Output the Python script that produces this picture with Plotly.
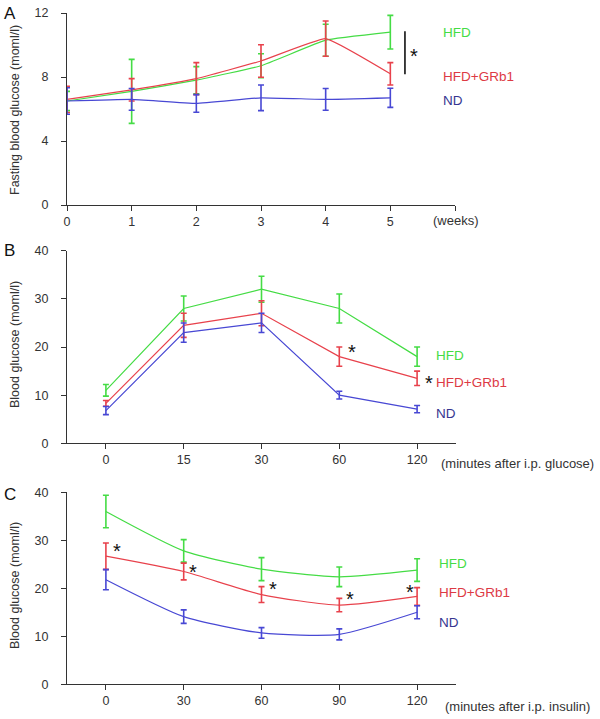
import plotly.graph_objects as go

# ---- data -------------------------------------------------------------
weeks = [0, 1, 2, 3, 4, 5]
hfd_a = [6.5, 7.1, 7.8, 8.7, 10.3, 10.8]
hfd_a_err = [0.6, 2.0, 0.85, 0.75, 1.0, 1.05]
grb1_a = [6.6, 7.2, 7.9, 9.0, 10.4, 8.2]
grb1_a_err = [0.82, 0.7, 1.0, 1.02, 1.1, 0.7]
nd_a = [6.5, 6.6, 6.35, 6.7, 6.6, 6.7]
nd_a_err = [0.83, 0.68, 0.55, 0.8, 0.68, 0.6]

glucose_min = ['0', '15', '30', '60', '120']
hfd_b = [11.0, 28.0, 32.0, 28.0, 18.0]
hfd_b_err = [1.2, 2.6, 2.7, 3.0, 2.0]
grb1_b = [8.3, 24.5, 27.0, 18.0, 13.5]
grb1_b_err = [0.6, 2.5, 2.6, 2.0, 1.5]
nd_b = [6.8, 23.0, 25.0, 10.0, 7.1]
nd_b_err = [0.85, 2.0, 2.0, 0.8, 0.75]

insulin_min = ['0', '30', '60', '90', '120']
hfd_c = [36.0, 27.8, 24.0, 22.4, 23.8]
hfd_c_err = [3.4, 2.35, 2.4, 2.05, 2.35]
grb1_c = [26.7, 23.5, 18.7, 16.5, 18.3]
grb1_c_err = [2.75, 1.75, 1.65, 1.4, 1.85]
nd_c = [21.8, 14.1, 10.7, 10.4, 15.0]
nd_c_err = [2.1, 1.4, 1.1, 1.15, 1.35]

# asterisk positions (x index, y value)
stars_b = [(3.14, 19.8), (4.14, 13.5)]
stars_c = [(0.12, 28.7), (1.1, 24.3), (2.13, 20.7), (3.12, 18.75), (3.89, 20.1)]

GREEN = '#45dc45'
RED = '#e8424c'
BLUE = '#4848d4'
TXT = '#333333'
ND_TXT = '#363690'
FONT = 'Liberation Sans, Arial, sans-serif'

fig = go.Figure()


def add_series(x, y, err, color, xa, ya, shape, smooth=0.6):
    fig.add_trace(go.Scatter(
        x=x, y=y, mode='lines', xaxis=xa, yaxis=ya,
        line=dict(color=color, width=1.2, shape=shape, smoothing=smooth),
        error_y=dict(type='data', array=err, visible=True, color=color,
                     thickness=1.6, width=3),
        cliponaxis=False, showlegend=False, hoverinfo='skip'
    ))


idx = list(range(5))
for y, e, c in [(hfd_a, hfd_a_err, GREEN), (grb1_a, grb1_a_err, RED), (nd_a, nd_a_err, BLUE)]:
    add_series(weeks, y, e, c, 'x', 'y', 'spline', 0.3)
for y, e, c in [(hfd_b, hfd_b_err, GREEN), (grb1_b, grb1_b_err, RED), (nd_b, nd_b_err, BLUE)]:
    add_series(idx, y, e, c, 'x2', 'y2', 'linear')
for y, e, c in [(hfd_c, hfd_c_err, GREEN), (grb1_c, grb1_c_err, RED), (nd_c, nd_c_err, BLUE)]:
    add_series(idx, y, e, c, 'x3', 'y3', 'spline', 0.6)

W, H = 600, 719


def px_x(p):
    return p / W


def px_y(p):
    return 1 - p / H


axis_common = dict(showline=True, linecolor=TXT, linewidth=1, ticks='outside',
                   ticklen=5, tickcolor=TXT, showgrid=False, zeroline=False,
                   automargin=False,
                   tickfont=dict(family=FONT, size=12.5, color=TXT))

fig.update_layout(
    width=W, height=H, margin=dict(l=0, r=0, t=0, b=0),
    plot_bgcolor='white', paper_bgcolor='white',
    xaxis=dict(domain=[px_x(67), px_x(455)], range=[0, 6], anchor='y',
               tickvals=[0, 1, 2, 3, 4, 5, 6],
               ticktext=['0', '1', '2', '3', '4', '5', ''], **axis_common),
    yaxis=dict(domain=[px_y(205), px_y(13)], range=[0, 12], anchor='x',
               tickvals=[0, 4, 8, 12], ticklabelstandoff=10, **axis_common),
    xaxis2=dict(domain=[px_x(67), px_x(456)], range=[-0.5, 4.5], anchor='y2',
                tickvals=idx, ticktext=glucose_min, **axis_common),
    yaxis2=dict(domain=[px_y(443.3), px_y(250.7)], range=[0, 40], anchor='x2',
                tickvals=[0, 10, 20, 30, 40], ticklabelstandoff=10, **axis_common),
    xaxis3=dict(domain=[px_x(67), px_x(456)], range=[-0.5, 4.5], anchor='y3',
                tickvals=idx, ticktext=insulin_min, **axis_common),
    yaxis3=dict(domain=[px_y(684.3), px_y(492.3)], range=[0, 40], anchor='x3',
                tickvals=[0, 10, 20, 30, 40], ticklabelstandoff=10, **axis_common),
)

ann = []


def label(text, x, y, xr, yr, color, size=13.5, **kw):
    ann.append(dict(text=text, x=x, y=y, xref=xr, yref=yr, showarrow=False,
                    font=dict(family=FONT, size=size, color=color),
                    xanchor=kw.get('xanchor', 'left'), yanchor='middle',
                    textangle=kw.get('textangle', 0)))


# group labels
label('HFD', 5.79, 10.8, 'x', 'y', GREEN)
label('HFD+GRb1', 5.79, 8.04, 'x', 'y', '#dd3a44')
label('ND', 5.79, 6.54, 'x', 'y', ND_TXT)
label('HFD', 4.22, 18.3, 'x2', 'y2', GREEN)
label('HFD+GRb1', 4.22, 12.65, 'x2', 'y2', '#dd3a44')
label('ND', 4.22, 6.2, 'x2', 'y2', ND_TXT)
label('HFD', 4.26, 25.1, 'x3', 'y3', GREEN)
label('HFD+GRb1', 4.26, 19.1, 'x3', 'y3', '#dd3a44')
label('ND', 4.26, 12.8, 'x3', 'y3', ND_TXT)

# x-axis unit captions
label('(weeks)', px_x(431), px_y(220), 'paper', 'paper', TXT, 13)
label('(minutes after i.p. glucose)', px_x(439), px_y(463), 'paper', 'paper', TXT, 13)
label('(minutes after i.p. insulin)', px_x(443), px_y(706), 'paper', 'paper', TXT, 13)

# panel letters
label('A', px_x(2), px_y(14), 'paper', 'paper', '#111111', 17)
label('B', px_x(2), px_y(250), 'paper', 'paper', '#111111', 17)
label('C', px_x(2), px_y(494), 'paper', 'paper', '#111111', 17)

# y-axis titles
label('Fasting blood glucose (moml/l)', px_x(15), px_y(110), 'paper', 'paper', TXT, 12.5,
      xanchor='center', textangle=-90)
label('Blood glucose (moml/l)', px_x(15), px_y(345), 'paper', 'paper', TXT, 12.5,
      xanchor='center', textangle=-90)
label('Blood glucose (moml/l)', px_x(15), px_y(586), 'paper', 'paper', TXT, 12.5,
      xanchor='center', textangle=-90)

# significance marks
label('*', 5.28, 9.3, 'x', 'y', '#111111', 20)
for sx, sy in stars_b:
    label('*', sx - 0.06, sy - 0.9, 'x2', 'y2', '#111111', 20)
for sx, sy in stars_c:
    label('*', sx - 0.06, sy - 0.9, 'x3', 'y3', '#111111', 20)

fig.update_layout(annotations=ann)
fig.add_shape(type='line', x0=5.226, x1=5.226, y0=8.17, y1=10.86, xref='x', yref='y',
              line=dict(color='#111111', width=1.6))

# page body has a default margin; drop it so the figure sits at the top-left corner
fig.write_html('out.html', config={'displayModeBar': False},
               post_script="document.body.style.margin='0';")
